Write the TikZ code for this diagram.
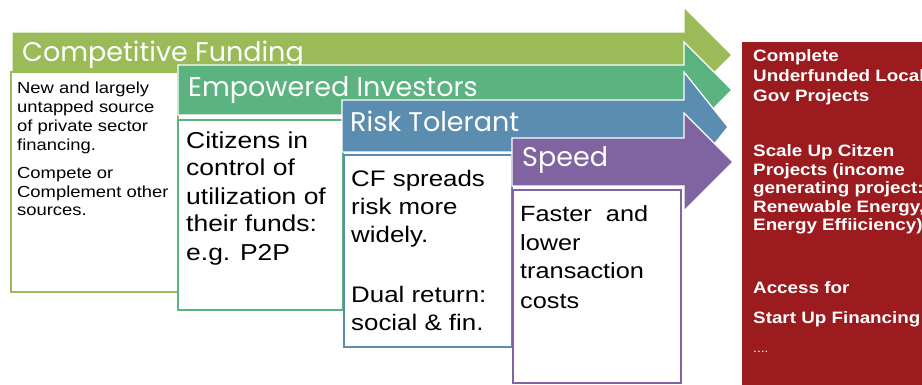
\documentclass[tikz,border=0pt]{standalone}
\usepackage{fontspec}
\newfontfamily\titlefont{Poppins}
\newfontfamily\bodyfont[FakeStretch=1.15]{Liberation Sans}
\newfontfamily\redfont[FakeStretch=1.14]{Liberation Sans}
\definecolor{cfgreen}{HTML}{9BBB59}
\definecolor{eigreen}{HTML}{5BB37F}
\definecolor{rtblue}{HTML}{5B8DB0}
\definecolor{sppurple}{HTML}{8064A2}
\definecolor{outred}{HTML}{9B1B1E}
% multi-line nodes are placed by the baseline of their last line
\tikzset{
  flow/.style={draw=white, line width=1.2pt, line join=miter},
  infobox/.style={fill=white, line width=1.6pt},
  title/.style={anchor=base west, inner sep=0pt, text=white,
    font=\titlefont\fontsize{27}{30}\selectfont},
  body/.style={anchor=base west, inner sep=0pt, align=left, text=black},
  redtext/.style={anchor=base west, inner sep=0pt, align=left, text=white,
    font=\redfont\bfseries\fontsize{16.5}{18.5}\selectfont},
}
\begin{document}
\begin{tikzpicture}[x=1pt, y=-1pt]
\useasboundingbox (0,0) rectangle (922,385);
\begin{scope}
\clip (0,0) rectangle (922,385);

% outcomes panel
\fill[outred] (742,42) rectangle (930,390);

% Competitive Funding
\path[flow, fill=cfgreen] (12,32) -- (684,32) -- (684,7) -- (732,55)
  -- (684,103) -- (684,78) -- (12,78) -- cycle;
\node[title] (cft) at (22,62) {Competitive Funding};
\draw[infobox, draw=cfgreen] (11,72) rectangle (178,292);
\node[body, font=\bodyfont\fontsize{16}{19}\selectfont] (cfb) at (17,216)
  {New and largely\\ untapped source\\ of private sector\\ financing.\\[9pt]
   Compete or\\ Complement other\\ sources.};

% Empowered Investors
\path[flow, fill=eigreen] (178,65) -- (684,65) -- (684,42) -- (732,90)
  -- (684,138) -- (684,115) -- (178,115) -- cycle;
\node[title] (eit) at (188,97) {Empowered Investors};
\draw[infobox, draw=eigreen] (178,120) rectangle (343,310);
\node[body, font=\bodyfont\fontsize{23}{28}\selectfont] (eib) at (186,260)
  {Citizens in\\ control of\\ utilization of\\ their funds:\\ e.g. P2P};

% Risk Tolerant
\path[flow, fill=rtblue] (342,100) -- (684,100) -- (684,72) -- (728,127)
  -- (684,182) -- (684,152) -- (342,152) -- cycle;
\node[title] (rtt) at (350,132) {Risk Tolerant};
\draw[infobox, draw=rtblue] (344,155) rectangle (512,347);
\node[body, font=\bodyfont\fontsize{22.5}{28}\selectfont] (rtb) at (351,330)
  {CF spreads\\ risk more\\ widely.\\[32pt] Dual return:\\ social \& fin.};

% Speed
\path[flow, fill=sppurple] (512,138) -- (684,138) -- (684,113) -- (733,162)
  -- (684,211) -- (684,186) -- (512,186) -- cycle;
\node[title] (spt) at (522,167) {Speed};
\draw[infobox, draw=sppurple] (513,190) rectangle (681,383);
\node[body, font=\bodyfont\fontsize{22}{29}\selectfont] (spb) at (520,308)
  {Faster\ \ and\\ lower\\ transaction\\ costs};

% outcomes text
\node[redtext, font=\redfont\bfseries\fontsize{16.5}{20}\selectfont] (o1) at (753,102)
  {Complete\\ Underfunded Local\\ Gov Projects};
\node[redtext] (o2) at (753,231)
  {Scale Up Citzen\\ Projects (income\\ generating project:\\ Renewable Energy,\\ Energy Effiiciency)};
\node[redtext] (o3) at (753,293) {Access for};
\node[redtext] (o4) at (753,323) {Start Up Financing};
\node[redtext, font=\redfont\fontsize{12}{14}\selectfont] (o5) at (753,352) {....};
\end{scope}
\end{tikzpicture}
\end{document}
